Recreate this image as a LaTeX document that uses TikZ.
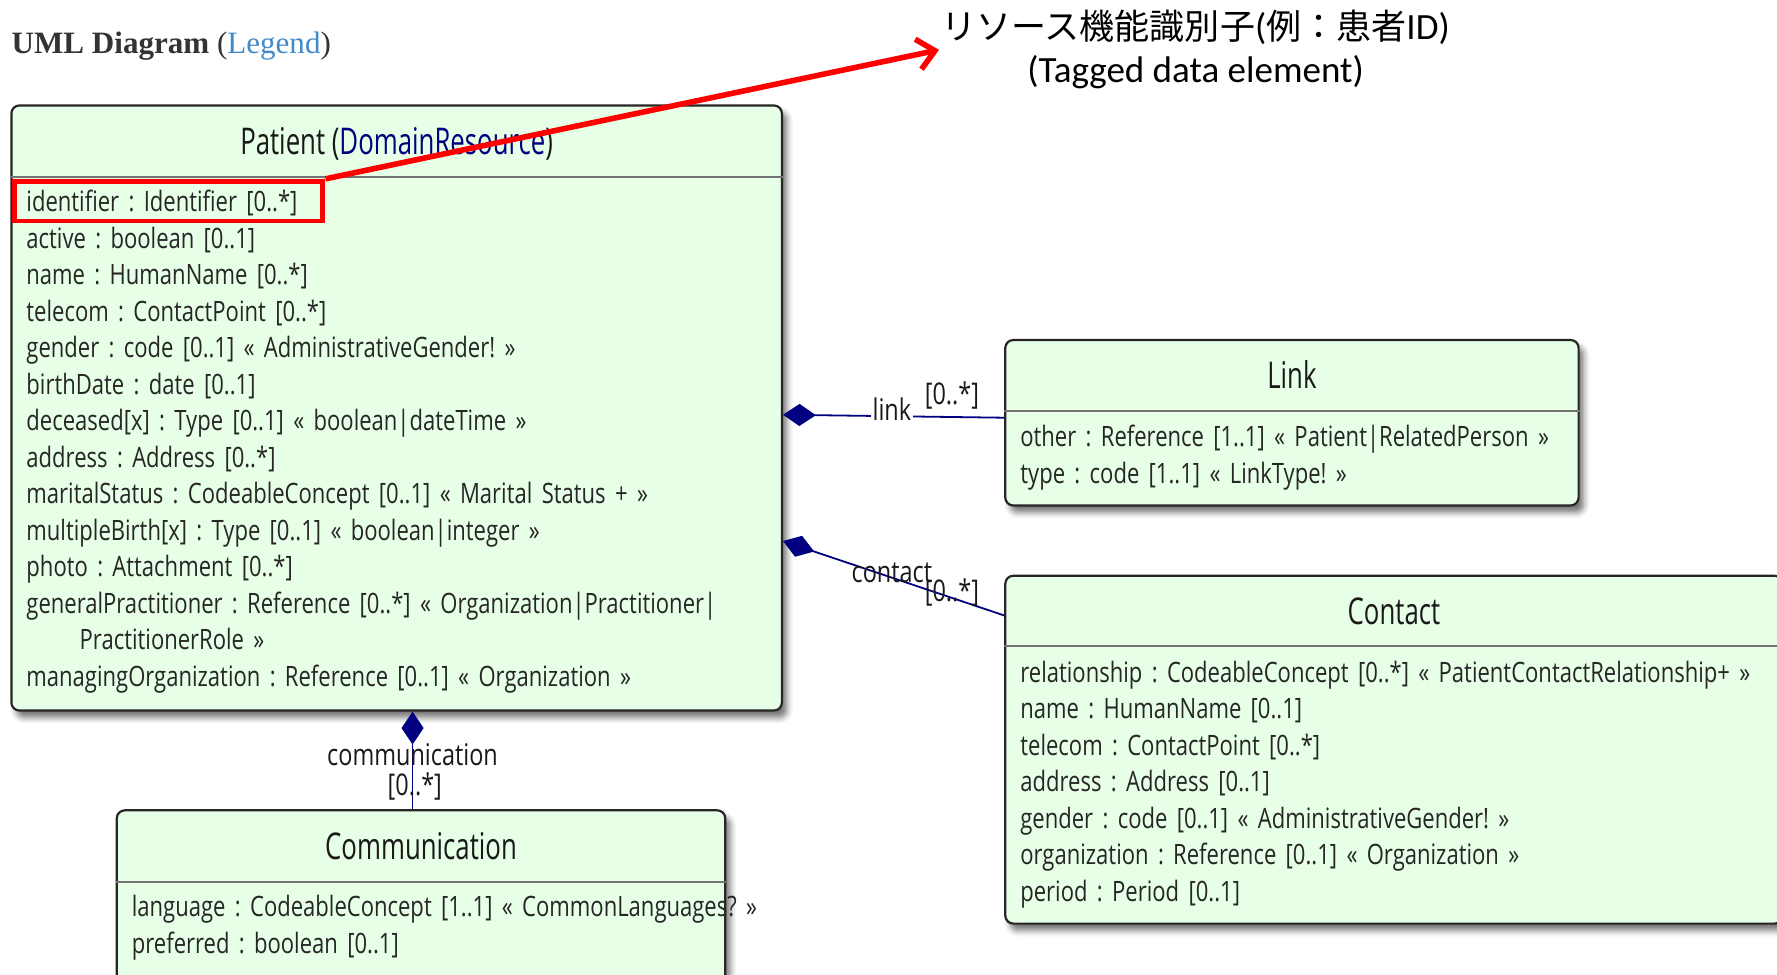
\documentclass[tikz,border=0pt]{standalone}
\usepackage{fontspec}
\setmainfont{Open Sans}
\newfontfamily\umlfont[FakeStretch=0.785]{Open Sans}
\newfontfamily\umlheadfont[FakeStretch=0.7]{Open Sans}
\newfontfamily\headfont{Liberation Serif}
\newfontfamily\notefont{Carlito}
\newfontfamily\jpfont{Noto Sans CJK JP}
\usepackage{tikz}
\usetikzlibrary{arrows.meta,positioning,shadows.blur}
\usepackage{xcolor}
\definecolor{umlgreen}{HTML}{E6FFE6}
\definecolor{umlnavy}{HTML}{000080}
\definecolor{legendblue}{HTML}{428BCA}
\definecolor{tagred}{HTML}{FF0000}
\definecolor{headgray}{HTML}{333333}
\frenchspacing

\begin{document}
\begin{tikzpicture}[x=0.02cm,y=-0.02cm,
        classbox/.style={draw=black!85,line width=1.1pt,rounded corners=4pt,
                    fill=umlgreen,inner sep=0pt,
                    blur shadow={shadow xshift=2.5pt,shadow yshift=-3.5pt,
                                 shadow blur radius=3pt,shadow opacity=55}},
        classname/.style={font=\umlheadfont\fontsize{18.5}{20}\selectfont,text=black!90,
                    anchor=base,inner sep=0pt},
        attrs/.style={font=\umlfont\fontsize{14.1}{18.33}\selectfont,text=black!85,
                    text width=15cm,align=left,anchor=base west,inner sep=0pt},
        sepline/.style={draw=black!55,line width=1.1pt},
        rolelbl/.style={font=\umlfont\fontsize{15}{16}\selectfont,text=black!90,inner sep=1pt},
        comp/.style={draw=umlnavy,line width=0.9pt,
                    {Diamond[length=5.8mm,width=3.9mm,fill=umlnavy]}-}]
      \path[use as bounding box,clip] (0,0) rectangle (1568,860);
      % heading
      \node[font=\headfont\fontsize{15.6}{18}\selectfont,text=headgray,anchor=base west,inner sep=0pt]
        (umltitle) at (10,47) {\bfseries UML Diagram \mdseries(\textcolor{legendblue}{Legend})};
      % Patient
      \node[classbox,minimum width=13.6cm,minimum height=10.68cm] (patient) at (350,360) {};
      \node[classname] (patientname) at (350,136) {Patient (\textcolor{umlnavy}{DomainResource})};
      \draw[sepline] (patient.west |- 0,156) -- (patient.east |- 0,156);
      \node[attrs] (patientattrs) at (23,187) {identifier : Identifier [0..*]\\
        active : boolean [0..1]\\
        name : HumanName [0..*]\\
        telecom : ContactPoint [0..*]\\
        gender : code [0..1] « AdministrativeGender! »\\
        birthDate : date [0..1]\\
        deceased[x] : Type [0..1] « boolean|dateTime »\\
        address : Address [0..*]\\
        maritalStatus : CodeableConcept [0..1] « Marital Status + »\\
        multipleBirth[x] : Type [0..1] « boolean|integer »\\
        photo : Attachment [0..*]\\
        generalPractitioner : Reference [0..*] « Organization|Practitioner|\\
        \hspace*{0.94cm}PractitionerRole »\\
        managingOrganization : Reference [0..1] « Organization »};
      % Link
      \node[classbox,minimum width=10.12cm,minimum height=2.92cm] (link) at (1140,373) {};
      \node[classname] (linkname) at (1140,343) {Link};
      \draw[sepline] (link.west |- 0,363) -- (link.east |- 0,363);
      \node[attrs] (linkattrs) at (900,394) {other : Reference [1..1] « Patient|RelatedPerson »\\
        type : code [1..1] « LinkType! »};
      % Contact
      \node[classbox,minimum width=13.72cm,minimum height=6.14cm] (contact) at (1230,661.5) {};
      \node[classname] (contactname) at (1230,551) {Contact};
      \draw[sepline] (contact.west |- 0,570) -- (contact.east |- 0,570);
      \node[attrs] (contactattrs) at (900,602) {relationship : CodeableConcept [0..*] « PatientContactRelationship+ »\\
        name : HumanName [0..1]\\
        telecom : ContactPoint [0..*]\\
        address : Address [0..1]\\
        gender : code [0..1] « AdministrativeGender! »\\
        organization : Reference [0..1] « Organization »\\
        period : Period [0..1]};
      % Communication
      \node[classbox,minimum width=10.74cm,minimum height=3.2cm] (comm) at (371.5,795) {};
      \node[classname] (commname) at (371.5,758) {Communication};
      \draw[sepline] (comm.west |- 0,778) -- (comm.east |- 0,778);
      \node[attrs] (commattrs) at (116,809) {language : CodeableConcept [1..1] « CommonLanguages? »\\
        preferred : boolean [0..1]};
      % associations
      \draw[comp] (patient.-1) -- (link.179);
      \node[rolelbl,fill=white] (linkrole) at (787,361) {link};
      \node[rolelbl] (linkcard) at (840,349) {[0..*]};
      \draw[comp] (patient.-19.4) -- (contact.161);
      \node[rolelbl] (contactrole) at (787,505) {contact};
      \node[rolelbl] (contactcard) at (840,523) {[0..*]};
      \draw[comp] (patient.-87.2) -- (patient.-87.2 |- comm.north);
      \node[rolelbl] (commrole) at (364,666) {communication};
      \node[rolelbl] (commcard) at (366,694) {[0..*]};
      % tagged element
      \node[draw=tagred,line width=2.5pt,minimum width=5.44cm,minimum height=0.7cm,inner sep=0pt]
        (idbox) at (149,177.5) {};
      \node[font=\notefont\fontsize{18.6}{21.6}\selectfont,align=center,inner sep=1pt]
        (tagnote) at (1055,44) {{\jpfont\fontsize{17.6}{21.6}\selectfont リソース機能識別子}(%
        {\jpfont\fontsize{17.6}{21.6}\selectfont 例：患者}ID)\\(Tagged data element)};
      \draw[draw=tagred,line width=2.8pt,-{Straight Barb[length=3mm,width=5.4mm]}]
        (idbox.north east) -- (tagnote.west);
    \end{tikzpicture}
\end{document}
